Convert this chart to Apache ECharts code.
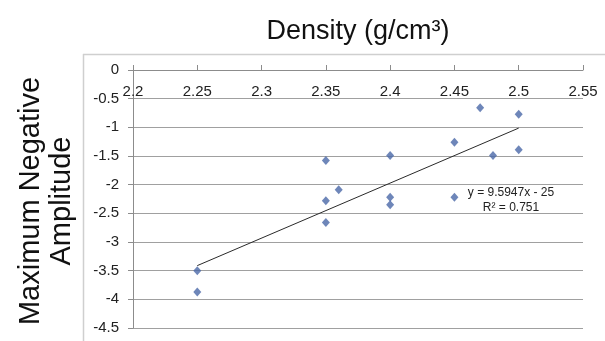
<!DOCTYPE html>
<html>
<head>
<meta charset="utf-8">
<script src="https://cdn.jsdelivr.net/npm/echarts@6/dist/echarts.min.js"></script>
<style>
  html, body { margin: 0; padding: 0; background: #fff; }
  #chart { width: 605px; height: 341px; }
</style>
</head>
<body>
<div id="chart"></div>
<script>
// Density (g/cm3) of each sample
const density = [2.25, 2.25, 2.35, 2.35, 2.35, 2.36, 2.40, 2.40, 2.40, 2.45, 2.45, 2.47, 2.48, 2.50, 2.50];
// Maximum negative amplitude measured for each sample
const amplitude = [-3.50, -3.87, -1.58, -2.28, -2.66, -2.09, -1.49, -2.22, -2.35, -1.26, -2.22, -0.66, -1.49, -0.77, -1.39];

// Linear trend line as reported: y = 9.5947x - 25, R² = 0.751
const trendSlope = 9.5947;
const trendIntercept = -25;
const trendR2 = 0.751;
const trendRange = [2.25, 2.5];

const xTicks = ['2.2', '2.25', '2.3', '2.35', '2.4', '2.45', '2.5', '2.55'];
const yTicks = ['0', '-0.5', '-1', '-1.5', '-2', '-2.5', '-3', '-3.5', '-4', '-4.5'];

const points = density.map((d, i) => [d, amplitude[i]]);
const trend = trendRange.map(x => [x, trendSlope * x + trendIntercept]);

const chart = echarts.init(document.getElementById('chart'), null, { renderer: 'canvas' });

const axisGray = '#8c8c8c';
const gridGray = '#a0a0a0';
const labelFont = { fontFamily: 'Liberation Sans, Arial, sans-serif', fontSize: 15, color: '#222' };

chart.setOption({
  animation: false,
  backgroundColor: '#fff',
  grid: { left: 133, top: 70, width: 450, height: 258, containLabel: false },
  xAxis: {
    type: 'value',
    position: 'top',
    min: 2.2,
    max: 2.55,
    interval: 0.05,
    axisLine: { show: true, onZero: false, lineStyle: { color: axisGray, width: 1 } },
    axisTick: { show: true, inside: false, length: 5, lineStyle: { color: axisGray } },
    axisLabel: Object.assign({
      inside: true,
      margin: 14,
      formatter: v => {
        const s = (Math.round(v * 100) / 100).toString();
        return xTicks.includes(s) ? s : '';
      }
    }, labelFont),
    splitLine: { show: false }
  },
  yAxis: {
    type: 'value',
    min: -4.5,
    max: 0,
    interval: 0.5,
    axisLine: { show: true, lineStyle: { color: axisGray, width: 1 } },
    axisTick: { show: true, length: 5, lineStyle: { color: axisGray } },
    axisLabel: Object.assign({
      margin: 14,
      formatter: v => {
        const s = (Math.round(v * 10) / 10).toString();
        return yTicks.includes(s) ? s : '';
      }
    }, labelFont),
    splitLine: { show: true, lineStyle: { color: gridGray, width: 1 } }
  },
  series: [
    {
      type: 'scatter',
      data: points,
      symbol: 'diamond',
      symbolSize: [8, 9],
      itemStyle: { color: '#4a68a8' },
      z: 3
    },
    {
      type: 'line',
      data: trend,
      showSymbol: false,
      symbol: 'none',
      lineStyle: { color: '#2a2a2a', width: 1 },
      z: 2
    }
  ],
  graphic: [
    // chart-area frame
    { type: 'line', shape: { x1: 83, y1: 54.5, x2: 605, y2: 54.5 }, style: { stroke: '#cfcfcf', lineWidth: 1.5 } },
    { type: 'line', shape: { x1: 83.5, y1: 54, x2: 83.5, y2: 341 }, style: { stroke: '#cfcfcf', lineWidth: 1.5 } },
    {
      type: 'text', x: 358, y: 32,
      style: {
        text: 'Density (g/cm³)', fontSize: 27, fontFamily: 'Liberation Sans, Arial, sans-serif',
        fill: '#111', align: 'center', verticalAlign: 'middle'
      }
    },
    {
      type: 'text', x: 46, y: 201, rotation: Math.PI / 2,
      style: {
        text: 'Maximum Negative\nAmplitude', fontSize: 29, lineHeight: 31,
        fontFamily: 'Liberation Sans, Arial, sans-serif',
        fill: '#111', align: 'center', verticalAlign: 'middle'
      }
    },
    {
      type: 'text', x: 511, y: 200,
      style: {
        text: 'y = ' + trendSlope + 'x - ' + Math.abs(trendIntercept) + '\nR² = ' + trendR2,
        fontSize: 12, lineHeight: 15, fontFamily: 'Liberation Sans, Arial, sans-serif',
        fill: '#222', align: 'center', verticalAlign: 'middle'
      }
    }
  ]
});
</script>
</body>
</html>
